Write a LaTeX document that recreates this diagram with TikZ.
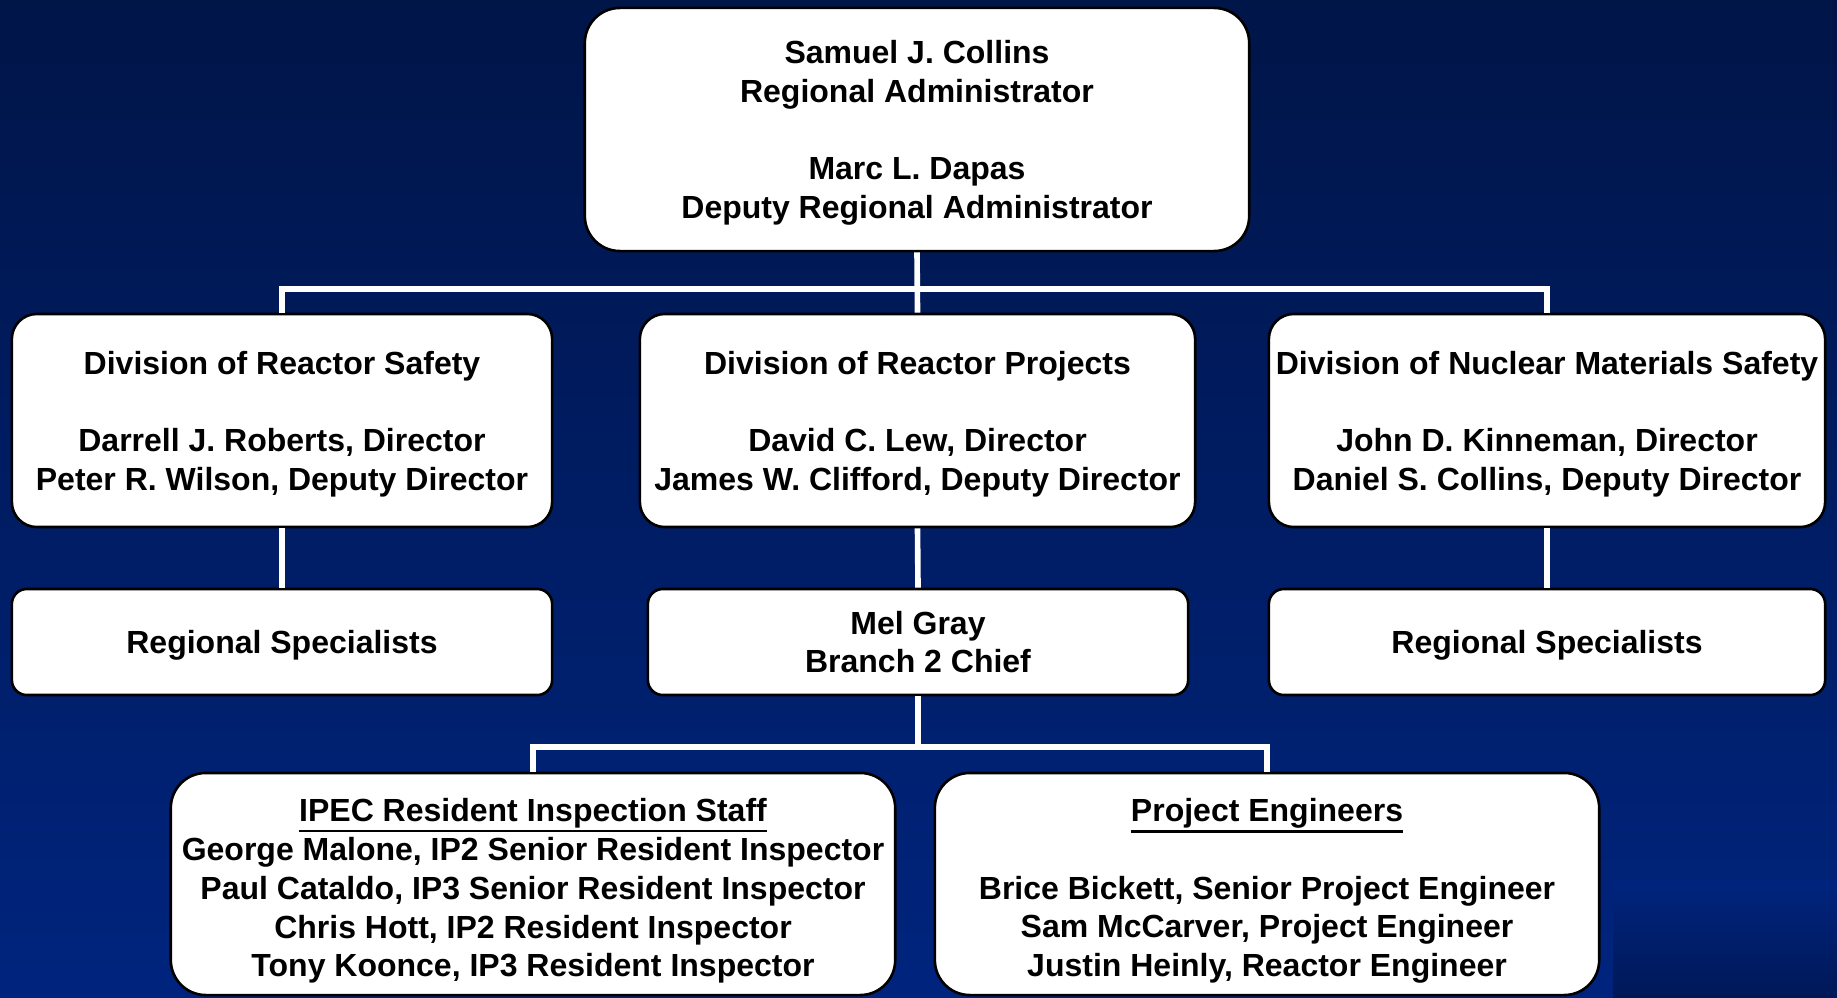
\documentclass[tikz,border=0pt]{standalone}
\usepackage{fontspec}
\setmainfont{Liberation Sans}
\definecolor{navytop}{RGB}{0,21,72}
\definecolor{navybot}{RGB}{0,36,126}
\definecolor{navydark}{RGB}{0,24,88}
\newcommand\titleline[1]{\vtop{\hbox{#1}\kern0.3pt\hrule height 0.8pt}}
\newcommand\topstrut[1]{\rule{0pt}{#1}}
\tikzset{
	orgbox/.style={draw=black, line width=0.75pt, fill=white, align=center, inner sep=0pt,
		font=\fontsize{9.1pt}{11pt}\selectfont\bfseries},
	link/.style={draw=white, line width=1.6pt}
}
\begin{document}
\begin{tikzpicture}[x=0.01cm, y=-0.01cm]
		\def\gap{\\[11pt]}
		
		\shade[top color=navytop, bottom color=navybot] (0,0) rectangle (1837,997);
		\useasboundingbox (0,0) rectangle (1837,997);
		\shade[top color=navybot, bottom color=navydark] (1613,880) rectangle (1837,997);
		
		% top
		\node[orgbox, rounded corners=0.35cm, minimum width=6.64cm, minimum height=2.43cm] (admin) at (917,129.5)
			{\topstrut{8.6pt}Samuel J. Collins\\Regional Administrator\gap Marc L. Dapas\\Deputy Regional Administrator};
		
		% divisions
		\node[orgbox, rounded corners=0.25cm, minimum width=5.40cm, minimum height=2.13cm] (drs) at (282,420.5)
			{\topstrut{8.6pt}Division of Reactor Safety\gap Darrell J. Roberts, Director\\Peter R. Wilson, Deputy Director};
		\node[orgbox, rounded corners=0.25cm, minimum width=5.55cm, minimum height=2.13cm] (drp) at (917.5,420.5)
			{\topstrut{8.6pt}Division of Reactor Projects\gap David C. Lew, Director\\James W. Clifford, Deputy Director};
		\node[orgbox, rounded corners=0.25cm, minimum width=5.56cm, minimum height=2.13cm] (dnms) at (1547,420.5)
			{\topstrut{8.6pt}Division of Nuclear Materials Safety\gap John D. Kinneman, Director\\Daniel S. Collins, Deputy Director};
		
		% second row
		\node[orgbox, rounded corners=0.15cm, minimum width=5.40cm, minimum height=1.06cm] (specl) at (282,642)
			{\topstrut{8.6pt}Regional Specialists};
		\node[orgbox, rounded corners=0.15cm, minimum width=5.40cm, minimum height=1.06cm] (branch) at (918,642)
			{Mel Gray\\Branch 2 Chief};
		\node[orgbox, rounded corners=0.15cm, minimum width=5.56cm, minimum height=1.06cm] (specr) at (1547,642)
			{\topstrut{8.6pt}Regional Specialists};
		
		% staff
		\node[orgbox, rounded corners=0.35cm, minimum width=7.24cm, minimum height=2.22cm] (ipec) at (533,884)
			{\topstrut{10.6pt}\titleline{IPEC Resident Inspection Staff}\\George Malone, IP2 Senior Resident Inspector\\
			 Paul Cataldo, IP3 Senior Resident Inspector\\Chris Hott, IP2 Resident Inspector\\
			 Tony Koonce, IP3 Resident Inspector};
		\node[orgbox, rounded corners=0.35cm, minimum width=6.64cm, minimum height=2.22cm] (pe) at (1267,884)
			{\topstrut{10.6pt}\titleline{Project Engineers}\gap Brice Bickett, Senior Project Engineer\\
			 Sam McCarver, Project Engineer\\Justin Heinly, Reactor Engineer};
		
		\coordinate (bus1) at (917,289);
		\coordinate (bus2) at (918,747);
		
		\draw[link] (admin.south) -- (drp.north);
		\draw[link] (drs.north) |- (bus1) -| (dnms.north);
		\foreach \a/\b in {drs/specl, drp/branch, dnms/specr}
			\draw[link] (\a.south) -- (\b.north);
		\draw[link] (branch.south) -- (bus2);
		\draw[link] (ipec.north) |- (bus2) -| (pe.north);
	\end{tikzpicture}
\end{document}
